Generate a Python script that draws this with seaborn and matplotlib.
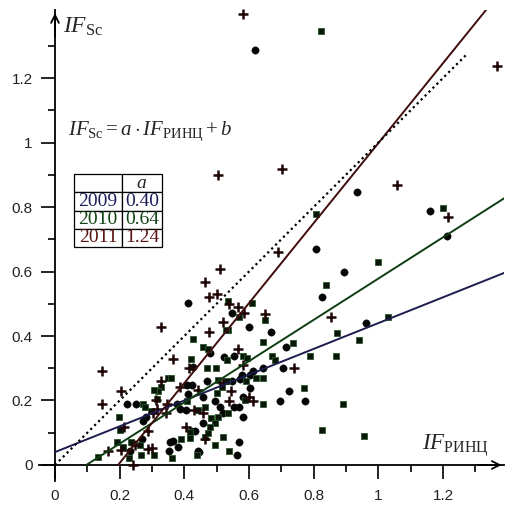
import numpy as np
import pandas as pd
import matplotlib
matplotlib.use("Agg")
import matplotlib.pyplot as plt
from matplotlib.ticker import FixedLocator, FixedFormatter
import seaborn as sns

# ---------------- data ----------------
years = ["2009", "2010", "2011"]
slopes = [0.40, 0.64, 1.24]
intercepts = [0.04, -0.062, -0.242]

x2009 = [0.410, 0.549, 0.601, 0.667, 0.716, 0.479, 0.522, 0.553, 0.428, 0.644, 0.706, 0.613, 0.603, 0.469, 0.546,
         0.577, 0.407, 0.423, 0.412, 0.458, 0.582, 0.603, 0.724, 0.696, 0.224, 0.250, 0.376, 0.386, 0.495, 0.510,
         0.553, 0.569, 0.405, 0.280, 0.273, 0.458, 0.520, 0.580, 0.422, 0.433, 0.268, 0.355, 0.366, 0.381, 0.569,
         0.232, 0.353, 0.443, 0.562, 0.446, 0.572, 1.160, 1.212, 0.807, 0.894, 0.826, 0.962, 0.773, 0.620, 0.934]
y2009 = [0.502, 0.471, 0.429, 0.411, 0.367, 0.347, 0.336, 0.338, 0.305, 0.300, 0.300, 0.293, 0.280, 0.261, 0.262,
         0.280, 0.249, 0.249, 0.221, 0.212, 0.212, 0.238, 0.230, 0.199, 0.189, 0.189, 0.189, 0.173, 0.197, 0.181,
         0.181, 0.181, 0.169, 0.150, 0.135, 0.130, 0.161, 0.150, 0.104, 0.104, 0.080, 0.070, 0.073, 0.055, 0.070,
         0.042, 0.042, 0.042, 0.032, 0.039, 0.268, 0.788, 0.710, 0.670, 0.598, 0.521, 0.440, 0.198, 1.287, 0.847]

x2010 = [0.536, 0.608, 0.569, 0.651, 0.536, 0.529, 0.428, 0.644, 0.735, 0.458, 0.473, 0.421, 0.531, 0.582, 0.593,
         0.670, 0.680, 0.470, 0.498, 0.350, 0.358, 0.505, 0.531, 0.592, 0.621, 0.642, 0.328, 0.319, 0.306, 0.500,
         0.518, 0.316, 0.273, 0.407, 0.464, 0.587, 0.644, 0.278, 0.297, 0.443, 0.199, 0.484, 0.495, 0.505, 0.534,
         0.201, 0.417, 0.464, 0.474, 0.479, 0.193, 0.235, 0.263, 0.211, 0.391, 0.520, 0.229, 0.266, 0.307, 0.134,
         0.361, 0.438, 0.495, 0.539, 0.418,
         0.807, 0.999, 0.838, 1.030, 0.872, 0.940, 0.789, 0.869, 0.770, 0.891, 0.826, 0.956, 1.200, 0.823]
y2010 = [0.510, 0.502, 0.460, 0.450, 0.419, 0.419, 0.390, 0.380, 0.378, 0.367, 0.359, 0.328, 0.326, 0.338, 0.331,
         0.338, 0.326, 0.301, 0.301, 0.271, 0.271, 0.264, 0.259, 0.259, 0.271, 0.271, 0.243, 0.228, 0.233, 0.223,
         0.243, 0.205, 0.189, 0.199, 0.181, 0.202, 0.190, 0.181, 0.166, 0.169, 0.150, 0.145, 0.130, 0.150, 0.161,
         0.109, 0.101, 0.088, 0.099, 0.119, 0.070, 0.070, 0.063, 0.057, 0.080, 0.088, 0.021, 0.032, 0.032, 0.026,
         0.021, 0.032, 0.063, 0.042, 0.083,
         0.778, 0.629, 0.558, 0.459, 0.409, 0.388, 0.338, 0.338, 0.239, 0.189, 0.109, 0.090, 0.797, 1.346]

x2011 = [0.689, 0.510, 0.463, 0.475, 0.501, 0.538, 0.567, 0.584, 0.648, 0.328, 0.520, 0.476, 0.566, 0.365, 0.413,
         0.582, 0.740, 0.146, 0.327, 0.386, 0.205, 0.443, 0.543, 0.600, 0.311, 0.146, 0.347, 0.429, 0.458, 0.539,
         0.613, 0.314, 0.304, 0.343, 0.212, 0.288, 0.405, 0.464, 0.247, 0.204, 0.288, 0.165, 0.240, 0.521, 0.301,
         0.853, 1.216, 0.580, 1.366, 0.505, 0.702, 1.058]
y2011 = [0.659, 0.608, 0.568, 0.522, 0.530, 0.499, 0.489, 0.471, 0.469, 0.429, 0.442, 0.411, 0.359, 0.329, 0.302,
         0.311, 0.300, 0.290, 0.261, 0.243, 0.229, 0.233, 0.228, 0.212, 0.202, 0.189, 0.190, 0.171, 0.161, 0.197,
         0.197, 0.173, 0.161, 0.161, 0.119, 0.104, 0.119, 0.080, 0.063, 0.047, 0.050, 0.042, 0.001, 0.255, 0.052,
         0.459, 0.769, 1.400, 1.237, 0.900, 0.918, 0.868]

x_ticks = [0, 0.2, 0.4, 0.6, 0.8, 1.0, 1.2]
x_tick_labels = ["0", "0.2", "0.4", "0.6", "0.8", "1", "1.2"]
y_ticks = [0, 0.2, 0.4, 0.6, 0.8, 1.0, 1.2]
y_tick_labels = ["0", "0.2", "0.4", "0.6", "0.8", "1", "1.2"]

# ---------------- style ----------------
sns.set_style("white")
plt.rcParams["font.family"] = ["Liberation Sans", "DejaVu Sans"]
plt.rcParams["mathtext.fontset"] = "custom"
plt.rcParams["mathtext.rm"] = "Liberation Serif"
plt.rcParams["mathtext.it"] = "Liberation Serif:italic"
plt.rcParams["mathtext.bf"] = "Liberation Serif:bold"

line_colors = {"2009": "#1c1c4e", "2010": "#0f3d12", "2011": "#3e0c0c"}
text_colors = {"2009": "#1c1c5a", "2010": "#114414", "2011": "#5a1414"}

fig = plt.figure(figsize=(5.06, 5.05), dpi=100)
ax = fig.add_axes([0.0767, 0.0473, 0.9202, 0.9323])
ax.set_xlim(-0.05, 1.39)
ax.set_ylim(-0.05, 1.41)

# scatter points
d09 = pd.DataFrame({"x": x2009, "y": y2009})
d10 = pd.DataFrame({"x": x2010, "y": y2010})
d11 = pd.DataFrame({"x": x2011, "y": y2011})
sns.scatterplot(data=d09, x="x", y="y", ax=ax, marker="o", s=28, color="#050505",
                edgecolor="#050505", linewidth=0.3, clip_on=False, zorder=3)
sns.scatterplot(data=d10, x="x", y="y", ax=ax, marker="s", s=22, color="#0a160a",
                edgecolor="#2b5a2b", linewidth=0.6, clip_on=False, zorder=3)
sns.scatterplot(data=d11, x="x", y="y", ax=ax, marker="+", s=50, color="#1e0606",
                linewidth=1.8, clip_on=False, zorder=3)

# regression lines
for yr, a, b in zip(years, slopes, intercepts):
    x0 = max(0.0, -b / a)
    xs = np.array([x0, 1.40])
    sns.lineplot(x=xs, y=a * xs + b, ax=ax, color=line_colors[yr], lw=1.4, zorder=4)

# y = x dotted reference
xd = np.array([0.0, 1.27])
sns.lineplot(x=xd, y=xd, ax=ax, color="black", lw=1.6, linestyle=(0, (1, 1.5)), zorder=4)

# ---------------- axes ----------------
for side in ["top", "right"]:
    ax.spines[side].set_visible(False)
ax.spines["left"].set_position(("data", 0))
ax.spines["bottom"].set_position(("data", 0))
for side in ["left", "bottom"]:
    ax.spines[side].set_linewidth(1.3)
    ax.spines[side].set_color("black")

ax.xaxis.set_major_locator(FixedLocator(x_ticks))
ax.xaxis.set_major_formatter(FixedFormatter(x_tick_labels))
ax.yaxis.set_major_locator(FixedLocator(y_ticks))
ax.yaxis.set_major_formatter(FixedFormatter(y_tick_labels))
ax.xaxis.set_minor_locator(FixedLocator([0.1, 0.3, 0.5, 0.7, 0.9, 1.1, 1.3]))
ax.yaxis.set_minor_locator(FixedLocator([0.1, 0.3, 0.5, 0.7, 0.9, 1.1, 1.3]))
ax.tick_params(which="major", direction="out", length=10, width=1.2, color="black",
               labelsize=11, labelcolor="#222222", pad=7)
ax.tick_params(which="minor", direction="out", length=5, width=1.2, color="black")
ax.tick_params(axis="x", which="both", bottom=True, top=False)
ax.tick_params(axis="y", which="both", left=True, right=False, pad=6)
ax.set_xlabel("")
ax.set_ylabel("")
ax.grid(False)

# arrows at axis ends
ax.annotate("", xy=(1.39, 0), xytext=(1.30, 0),
            arrowprops=dict(arrowstyle="->", color="black", lw=1.3, mutation_scale=14),
            annotation_clip=False)
ax.annotate("", xy=(0, 1.41), xytext=(0, 1.32),
            arrowprops=dict(arrowstyle="->", color="black", lw=1.3, mutation_scale=14),
            annotation_clip=False)

# axis labels and formula
ax.text(0.025, 1.34, r"$IF_{\mathrm{Sc}}$", fontsize=17, ha="left", va="baseline")
ax.text(1.135, 0.047, r"$IF_{\mathrm{РИНЦ}}$", fontsize=16.5, ha="left", va="baseline")
ax.text(0.04, 1.023, r"$IF_{\mathrm{Sc}} = a\cdot IF_{\mathrm{РИНЦ}} + b$", fontsize=15,
        ha="left", va="baseline")

# coefficient table
cell_text = [["", "$a$"]] + [[yr, f"{a:.2f}"] for yr, a in zip(years, slopes)]
tbl = ax.table(cellText=cell_text, cellLoc="center", colWidths=[0.545, 0.455],
               bbox=[0.0756, 0.4972, 0.189, 0.1551])
tbl.auto_set_font_size(False)
for (r, c), cell in tbl.get_celld().items():
    cell.set_linewidth(0.9)
    cell.set_edgecolor("black")
    cell.set_facecolor("white")
    txt = cell.get_text()
    txt.set_fontsize(14)
    txt.set_fontfamily(["Liberation Serif", "DejaVu Serif"])
    if r >= 1:
        txt.set_color(text_colors[years[r - 1]])
tbl.set_zorder(5)

fig.savefig("out.png", dpi=100)
